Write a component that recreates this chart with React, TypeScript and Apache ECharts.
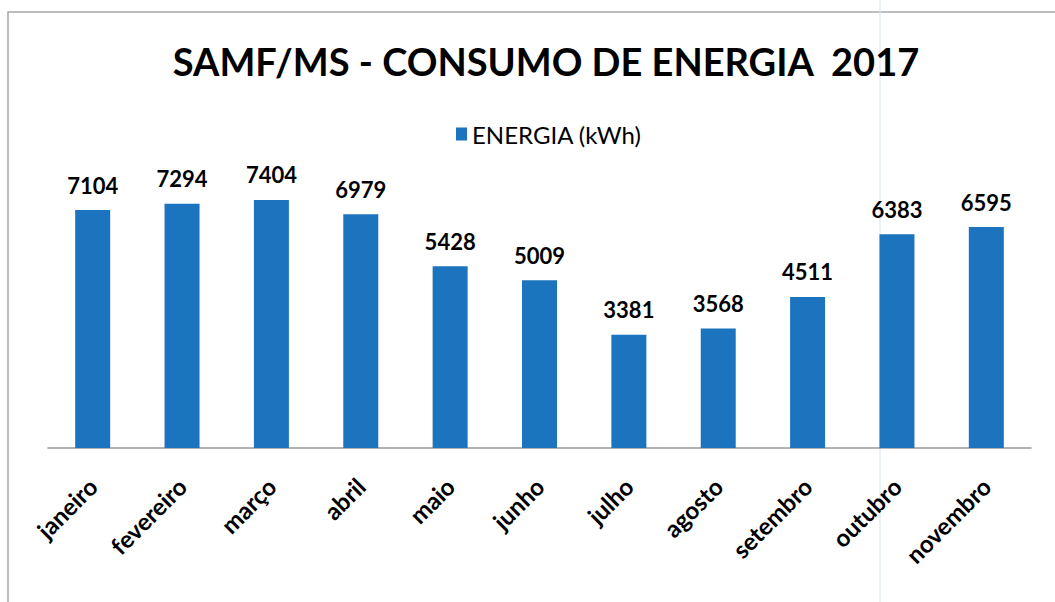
import React, { useEffect, useRef } from "react";
import * as echarts from "echarts";

const categories = ["janeiro", "fevereiro", "março", "abril", "maio", "junho", "julho", "agosto", "setembro", "outubro", "novembro"];
const energia = [7104, 7294, 7404, 6979, 5428, 5009, 3381, 3568, 4511, 6383, 6595];
const titleText = "SAMF/MS - CONSUMO DE ENERGIA  2017";
const seriesName = "ENERGIA (kWh)";

export default function App() {
  const ref = useRef<HTMLDivElement>(null);
  useEffect(() => {
    document.body.style.margin = "0";
    const chart = echarts.init(ref.current!, null, { renderer: "svg" });
    const font = "Lato, 'Open Sans', sans-serif";
    chart.setOption({
      animation: false,
      backgroundColor: "#ffffff",
      title: {
        text: titleText,
        left: 541,
        textAlign: "center",
        top: 37,
        textStyle: { fontFamily: font, fontWeight: "bold", fontSize: 38, color: "#000" },
      },
      legend: {
        data: [seriesName],
        top: 117,
        left: 451,
        itemWidth: 11,
        itemHeight: 13,
        icon: "rect",
        itemGap: 6,
        textStyle: { fontFamily: font, fontSize: 24, color: "#000" },
      },
      grid: { left: 48, right: 24, top: 180, bottom: 154, outerBoundsMode: "none" },
      xAxis: {
        type: "category",
        data: categories,
        axisLine: { lineStyle: { color: "#9a9a9a", width: 1.5 } },
        axisTick: { show: false },
        axisLabel: {
          rotate: 45,
          interval: 0,
          margin: 34,
          fontFamily: font,
          fontWeight: "bold",
          fontSize: 24,
          color: "#000",
        },
      },
      yAxis: {
        type: "value",
        min: 0,
        max: 8000,
        show: false,
        splitLine: { show: false },
      },
      series: [
        {
          name: seriesName,
          type: "bar",
          data: energia,
          barWidth: 35,
          itemStyle: { color: "#1B74BD" },
          label: {
            show: true,
            position: "top",
            distance: 14,
            fontFamily: font,
            fontWeight: "bold",
            fontSize: 22,
            color: "#000",
          },
        },
      ],
      graphic: [
        {
          type: "rect",
          shape: { x: 8, y: 12, width: 1060, height: 600 },
          style: { fill: "none", stroke: "#a8a8a8", lineWidth: 1.5 },
          silent: true,
        },
        {
          type: "line",
          shape: { x1: 880, y1: 0, x2: 880, y2: 602 },
          style: { stroke: "#d6e6f2", lineWidth: 1 },
          silent: true,
        },
      ],
    });
    return () => chart.dispose();
  }, []);
  return <div ref={ref} style={{ position: "absolute", left: 0, top: 0, width: 1055, height: 602 }} />;
}
